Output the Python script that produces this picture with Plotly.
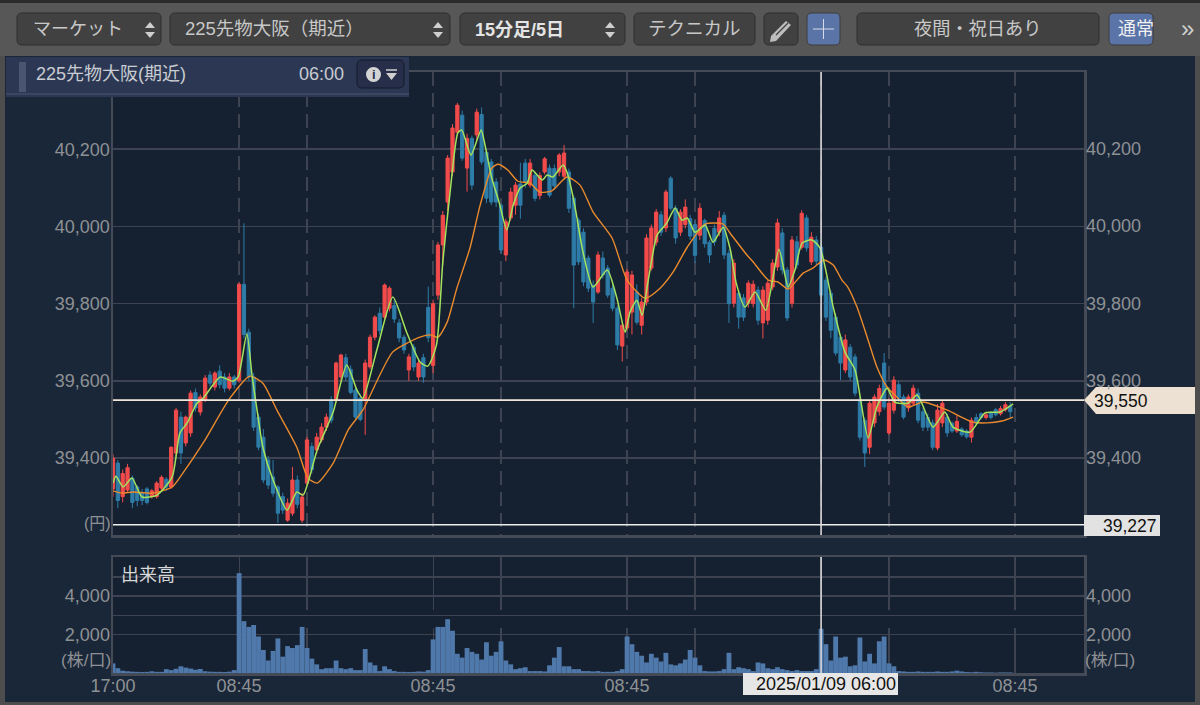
import plotly.graph_objects as go

# ---------- data (bar index: one bar = 30 min of the trading clock) ----------
opens = [
39320,39387,39300,39317,39348,39325,39310,39320,39300,39300,
39322,39345,39325,39413,39506,39439,39465,39570,39519,39550,
39615,39584,39625,39610,39581,39610,39600,39850,39726,39610,
39506,39454,39395,39351,39325,39300,39239,39257,39343,39239,
39335,39430,39421,39447,39480,39550,39550,39610,39660,39630,
39576,39555,39550,39636,39713,39775,39765,39788,39795,39750,
39713,39628,39687,39610,39660,39790,39640,39822,39952,40063,
40141,40244,40288,40151,40228,40237,40290,40192,40167,40115,
40055,39926,40022,40055,40110,40164,40107,40132,40080,40141,
40151,40150,40141,40130,40141,40073,40016,39985,39918,39848,
39830,39918,39892,39840,39788,39690,39737,39778,39830,39744,
39804,39892,39959,40030,39996,40125,40047,39985,40005,40020,
40005,39977,40015,39959,39995,39985,40029,39930,39801,39827,
39815,39801,39800,39835,39750,39757,39843,39895,39983,39887,
39801,39960,39946,40022,39908,39965,39946,39861,39827,39765,
39713,39628,39687,39662,39550,39498,39428,39491,39520,39646,
39465,39524,39590,39558,39530,39542,39568,39520,39505,39491,
39426,39491,39506,39490,39470,39475,39470,39454,39505,39515,
39505,39518,39525,39515,39525,39535]
closes = [
39400,39290,39360,39375,39285,39290,39290,39285,39315,39335,
39350,39325,39428,39524,39413,39506,39568,39530,39558,39607,
39594,39620,39590,39581,39610,39590,39850,39720,39610,39480,
39428,39343,39330,39309,39257,39265,39283,39343,39280,39299,
39447,39370,39454,39480,39506,39498,39646,39667,39610,39570,
39506,39500,39646,39713,39765,39730,39848,39840,39760,39711,
39680,39662,39636,39646,39610,39712,39800,39952,40029,40177,
40255,40314,40177,40228,40107,40296,40167,40073,40063,40063,
39939,40012,40089,40107,40055,40115,40164,40073,40132,40175,
40081,40105,40185,40190,40047,39900,39908,39856,39840,39804,
39926,39874,39822,39788,39693,39744,39882,39874,39752,39804,
39970,39996,40037,39985,40089,40047,39970,40037,40050,39975,
39925,40047,39955,39926,39960,40022,39926,39800,39905,39765,
39765,39853,39850,39757,39835,39853,39905,40009,39887,39763,
39965,39900,40034,39944,39972,39910,39822,39765,39731,39672,
39646,39706,39610,39568,39454,39413,39542,39558,39580,39532,
39542,39602,39555,39506,39558,39581,39498,39480,39480,39428,
39524,39542,39465,39470,39495,39460,39455,39498,39490,39505,
39512,39505,39512,39528,39538,39520]
highs = [
39410,39395,39370,39385,39355,39330,39320,39325,39320,39340,
39355,39350,39430,39530,39520,39510,39575,39580,39565,39615,
39625,39625,39640,39620,39620,39615,39855,40008,39735,39620,
39515,39475,39405,39395,39330,39310,39295,39377,39355,39310,
39455,39440,39465,39490,39515,39560,39650,39670,39670,39640,
39585,39565,39655,39720,39770,39790,39852,39845,39810,39760,
39720,39670,39695,39655,39670,39844,39810,39960,40040,40185,
40265,40320,40300,40240,40235,40305,40308,40200,40175,40125,
40060,40020,40100,40115,40165,40175,40175,40140,40140,40180,
40160,40160,40190,40211,40150,40080,40022,39995,39925,39860,
39935,39935,39900,39850,39795,39755,39890,39885,39850,39815,
39980,40005,40045,40040,40095,40130,40055,40045,40070,40030,
40015,40060,40020,39965,40005,40040,40037,39940,39915,39835,
39825,39860,39860,39845,39845,39860,39915,40020,39995,39895,
39975,39975,40042,40030,39985,39975,39955,39870,39835,39775,
39720,39720,39695,39670,39560,39505,39550,39565,39590,39672,
39555,39612,39600,39565,39565,39590,39580,39530,39515,39500,
39540,39550,39515,39495,39510,39480,39475,39505,39515,39518,
39520,39522,39530,39535,39545,39545]
lows = [
39300,39270,39285,39310,39270,39275,39278,39280,39295,39295,
39315,39315,39320,39405,39385,39430,39455,39520,39510,39545,
39585,39575,39580,39570,39575,39580,39595,39710,39600,39470,
39420,39335,39320,39300,39232,39255,39235,39250,39270,39232,
39330,39360,39410,39440,39470,39490,39545,39600,39600,39565,
39500,39495,39460,39630,39705,39720,39760,39780,39750,39700,
39670,39600,39625,39600,39595,39700,39620,39810,39900,40040,
40130,40235,40170,40090,40095,40225,40160,40060,40055,40050,
39930,39910,40015,40030,40020,40100,40100,40065,40070,40135,
40075,40095,40130,40125,40035,39788,39900,39845,39830,39750,
39825,39865,39815,39780,39680,39650,39730,39720,39745,39720,
39795,39885,39950,39975,39985,40040,39955,39975,39995,39965,
39905,39965,39945,39905,39950,39975,39915,39750,39790,39735,
39755,39790,39790,39745,39710,39745,39835,39885,39875,39755,
39790,39890,39940,39935,39900,39900,39815,39755,39710,39665,
39602,39620,39600,39560,39445,39377,39410,39480,39510,39525,
39460,39515,39545,39500,39520,39535,39490,39470,39470,39420,
39420,39480,39455,39465,39465,39455,39450,39440,39485,39500,
39500,39500,39508,39510,39520,39505]
volumes = [
500,250,120,90,70,60,50,60,90,60,
60,200,150,220,350,280,230,170,210,90,
70,60,60,50,70,150,5200,2700,2400,2500,
1900,1200,650,1150,1800,850,1400,1300,1450,2400,
1300,750,450,200,250,250,650,250,200,250,
150,150,1250,550,400,100,350,200,100,60,
60,50,60,80,70,150,1750,2400,2400,2800,
2200,1000,800,1300,1100,1000,700,1600,900,1100,
1650,650,450,200,250,300,100,100,100,80,
400,800,1350,350,350,200,200,100,100,80,
100,60,60,60,100,200,1900,1500,1100,900,
550,1000,800,600,1050,450,400,500,700,1200,
800,400,100,80,80,100,200,1050,200,300,
250,200,100,550,500,250,200,300,200,150,
100,150,100,100,100,200,2300,1500,650,1900,
800,850,350,400,1850,600,1000,500,1650,1900,
500,350,100,80,60,60,80,60,60,60,
80,60,60,80,120,80,50,40,60,40,
30,30,20,30,30,30]

fast_bars = [0,0.6,2.1,3.9,6,9.1,12.2,13.8,15.3,17.3,18.6,22.1,24.7,25.8,27.6,28.7,29.7,30.9,33,35.9,
37.9,39.2,42.1,45.4,48.2,50.3,51.5,54.4,57.7,60.6,63.3,64.9,66.7,68,69.5,71.1,71.9,73.8,75.9,76.7,
78.1,79.6,81.2,82.5,83.9,85.4,86.4,88.5,89.5,90.7,92.8,93.8,95.3,96.9,99,101.9,103.9,105.6,106.6,108,
109.1,110.3,112.2,114.2,115.9,117.3,118.4,120,122.1,123.7,125.8,127.3,128.5,130.3,132.4,134.6,137.3,139.2,140.6,142.1,
144.1,145.8,148.5,150.9,153,155.7,157.5,159.6,161.2,163.9,165.8,169.1,171.5,173.2,176.7,179.8,182.9,185.6]
fast_ma = [39335,39353,39325,39348,39299,39304,39351,39465,39491,39542,39555,39610,39599,39610,39721,39610,39524,39428,39343,39265,
39312,39304,39421,39519,39641,39576,39555,39680,39817,39724,39649,39638,39693,39908,40089,40242,40250,40185,40250,40211,
40125,40063,39991,40055,40099,40112,40146,40120,40133,40128,40159,40133,40048,39934,39843,39887,39814,39726,39778,39809,
39770,39856,39978,40009,40048,40016,40022,39985,40003,39959,39998,39939,39853,39791,39830,39783,39941,39843,39887,39957,
39965,39944,39791,39675,39628,39452,39532,39581,39545,39542,39563,39480,39519,39480,39467,39517,39519,39540]

slow_bars = [0,1.9,4.1,8.2,12.2,14.4,18.6,24.1,28.2,30.9,33.8,37.9,40.2,42.1,45.4,48.5,51.5,57.7,63.3,65.4,
67,68.9,70.9,73.6,75.7,78.1,79.4,81.4,83.5,86,88,90.5,93.6,96.3,99,102.9,106,109.7,112.8,115.5,
118.4,122.1,125.8,127.2,130.7,132,135.1,137.1,139.2,142.3,144.3,146.6,148.5,150.3,151.5,153.4,155.5,157.5,159.6,161.2,
163.9,167,172,177.3,180.2,183.3,185.6]
slow_ma = [39315,39309,39312,39309,39325,39361,39439,39555,39612,39594,39524,39428,39348,39335,39387,39473,39524,39675,39713,39719,
39713,39752,39840,39944,40055,40151,40161,40146,40117,40112,40089,40092,40128,40107,40037,39970,39861,39814,39840,39882,
39946,40006,40006,39983,39926,39908,39861,39856,39838,39879,39892,39913,39900,39861,39843,39791,39713,39636,39584,39563,
39532,39545,39524,39493,39491,39496,39506]

price_ticks = [39400, 39600, 39800, 40000, 40200]
volume_ticks = [2000, 3000, 4000, 5000]
volume_tick_text = ["2,000", "", "4,000", ""]
time_ticks = [0, 26, 40, 66, 80, 106, 120, 146, 160, 186]
time_labels = ["17:00", "08:45", "", "08:45", "", "08:45", "", "", "", "08:45"]
current_price = 39550
low_price = 39227
cursor_bar = 146

# ---------- styling ----------
W, H = 1200, 705
LAT = "Liberation Sans, Arial, Noto Sans CJK JP"
CJK = "Liberation Sans, Noto Sans CJK JP"
GRID = "#3d4350"
BORDER = "#454a57"
TXT = "#8e9194"
bars = list(range(len(opens)))
assert len(opens) == len(closes) == len(highs) == len(lows) == len(volumes) == 186
assert len(fast_bars) == len(fast_ma) and len(slow_bars) == len(slow_ma)

px = lambda x: x / W
py = lambda y: 1 - y / H

def rrect(x0, y0, x1, y1, fill, line=None, r=5, lw=1):
    a, b, c, d = px(x0), py(y0), px(x1), py(y1)
    rx, ry = r / W, r / H
    p = (f"M{a+rx},{b} L{c-rx},{b} Q{c},{b} {c},{b-ry} L{c},{d+ry} Q{c},{d} {c-rx},{d} "
         f"L{a+rx},{d} Q{a},{d} {a},{d+ry} L{a},{b-ry} Q{a},{b} {a+rx},{b} Z")
    return dict(type="path", xref="paper", yref="paper", path=p, fillcolor=fill,
                line=dict(color=line or fill, width=lw if line else 0), layer="above")

def poly(points, fill, line=None, lw=1):
    p = "M" + " L".join(f"{px(x)},{py(y)}" for x, y in points) + " Z"
    return dict(type="path", xref="paper", yref="paper", path=p, fillcolor=fill,
                line=dict(color=line or fill, width=lw if line else 0), layer="above")

def seg(x0, y0, x1, y1, color, w=1.5):
    return dict(type="line", xref="paper", yref="paper", x0=px(x0), y0=py(y0), x1=px(x1), y1=py(y1),
                line=dict(color=color, width=w), layer="above")

def note(x, y, text, size=16, color="#c8c8c8", anchor="left", font=CJK):
    return dict(xref="paper", yref="paper", x=px(x), y=py(y), text=text, showarrow=False,
                xanchor=anchor, yanchor="middle", align=anchor,
                font=dict(family=font, size=size, color=color), borderpad=0, borderwidth=0)

def updown(xc):
    return [poly([(xc-5, 28), (xc+5, 28), (xc, 22)], "#cfcfcf"),
            poly([(xc-5, 32), (xc+5, 32), (xc, 38)], "#cfcfcf")]

shapes = []
# window frame
shapes += [rrect(0, 0, 1200, 56, "#575757", r=0), rrect(0, 0, 1200, 3, "#2b2b2b", r=0),
           rrect(0, 56, 5, 705, "#4d4d4d", r=0), rrect(1195, 56, 1200, 705, "#4d4d4d", r=0),
           rrect(0, 702, 1200, 705, "#4d4d4d", r=0)]
# toolbar buttons
BTN, BL = "#414141", "#2f2f2f"
for a, b in [(17, 161), (170, 450), (460, 625), (634, 755), (764, 798), (857, 1099)]:
    shapes.append(rrect(a, 13, b, 45, BTN, BL))
shapes += [rrect(807, 13, 840, 45, "#5a74a8", "#3d3d3d"), rrect(1109, 13, 1153, 45, "#5a74a8", "#3d3d3d")]
shapes += updown(150) + updown(438) + updown(610)
shapes += [seg(823.5, 19, 823.5, 39, "#d5dbe8", 1), seg(813, 29, 834, 29, "#d5dbe8", 1)]
shapes += [poly([(771, 36), (786, 21), (791, 25), (776, 41), (770, 42)], "#bdbdbd"),
           seg(776, 35, 788, 23, "#414141", 1.2)]
# info panel
shapes += [rrect(6, 57, 409, 97, "#2c3853", r=0), rrect(6, 93, 409, 95, "#3c4660", r=0),
           rrect(19, 62, 26, 92, "#4a5570", r=0),
           rrect(357, 60, 404, 88, "#262e4a", "#15192a", r=5),
           dict(type="circle", xref="paper", yref="paper", x0=px(366), x1=px(381), y0=py(67), y1=py(82),
                fillcolor="#d4d4d4", line=dict(width=0), layer="above"),
           poly([(386, 73), (397, 73), (391.5, 80)], "#cfcfcf"), seg(386, 70, 397, 70, "#cfcfcf", 1.5)]
# cursor and level lines
shapes += [
    dict(type="line", xref="x domain", x0=0, x1=1, yref="y", y0=current_price, y1=current_price,
         line=dict(color="#f0e6d8", width=1.6), layer="above"),
    dict(type="line", xref="x domain", x0=0, x1=1, yref="y", y0=low_price, y1=low_price,
         line=dict(color="#eeeeee", width=1.6), layer="above"),
    dict(type="line", xref="x", x0=cursor_bar, x1=cursor_bar, yref="y domain", y0=0, y1=1,
         line=dict(color="#d8d8d8", width=1.6), layer="above"),
    dict(type="line", xref="x2", x0=cursor_bar, x1=cursor_bar, yref="y2 domain", y0=0, y1=1,
         line=dict(color="#d8d8d8", width=1.6), layer="above"),
    poly([(1084, 400), (1096, 387), (1195, 387), (1195, 414), (1096, 414)], "#ede1d3"),
    rrect(1084, 515, 1160, 536, "#e2e2e2", r=0),
    rrect(743, 673, 898, 695, "#e6e6e6", r=0),
]

annotations = [
    note(33, 29, "マーケット", 18), note(185, 29, "225先物大阪（期近）", 18.5),
    note(475, 30, "<b>15分足/5日</b>", 18, "#e4e4e4"), note(694.5, 29, "テクニカル", 18.5, anchor="center"),
    note(977, 29, "夜間・祝日あり", 18.2, anchor="center"), note(1118, 29, "通常", 18, "#f0f0f0"),
    note(1187, 29, "»", 24, "#d0d0d0", anchor="center"),
    note(36, 74, "225先物大阪(期近)", 18, "#c9ccd2"), note(344, 74, "06:00", 18, "#c9ccd2", anchor="right"),
    note(373.5, 74.5, "<b>i</b>", 13, "#262e4a", anchor="center", font=LAT),
    note(111, 523, "(円)", 16, TXT, anchor="right"),
    note(121, 575, "出来高", 18, "#d8d8d8"),
    note(111, 660, "(株/口)", 17, TXT, anchor="right"), note(1085, 660, "(株/口)", 17, TXT),
    note(1094, 400.5, f"{current_price:,}", 17.5, "#111111", font=LAT),
    note(1157, 525.5, f"{low_price:,}", 17.5, "#111111", anchor="right", font=LAT),
    note(825.5, 684, "2025/01/09 06:00", 18, "#111111", anchor="center", font=LAT),
]
for t in price_ticks:
    annotations.append(dict(xref="paper", yref="y", x=px(1084), y=t, text=f"{t:,}", showarrow=False,
                            xanchor="left", yanchor="middle", font=dict(family=LAT, size=18, color=TXT)))
for t, s in zip(volume_ticks, volume_tick_text):
    if s:
        annotations.append(dict(xref="paper", yref="y2", x=px(1084), y=t, text=s, showarrow=False,
                                xanchor="left", yanchor="middle", font=dict(family=LAT, size=18, color=TXT)))

fig = go.Figure()
fig.add_trace(go.Candlestick(
    x=bars, open=opens, high=highs, low=lows, close=closes, xaxis="x", yaxis="y",
    whiskerwidth=0, hoverinfo="skip",
    increasing=dict(line=dict(color="#f24b4b", width=1), fillcolor="#f24b4b"),
    decreasing=dict(line=dict(color="#2e7ca8", width=1), fillcolor="#2e7ca8")))
fig.add_trace(go.Scatter(x=slow_bars, y=slow_ma, mode="lines", xaxis="x", yaxis="y", hoverinfo="skip",
                         line=dict(color="#ea8a2c", width=1.4, shape="spline", smoothing=0.6)))
fig.add_trace(go.Scatter(x=fast_bars, y=fast_ma, mode="lines", xaxis="x", yaxis="y", hoverinfo="skip",
                         line=dict(color="#a3e35e", width=1.5, shape="spline", smoothing=0.6)))
fig.add_trace(go.Bar(x=bars, y=volumes, xaxis="x2", yaxis="y2", marker=dict(color="#5079ab", line=dict(width=0)),
                     width=1.0, hoverinfo="skip"))

x_range = [0, (1084 - 113) / 4.85]
fig.update_layout(
    width=W, height=H, margin=dict(l=0, r=0, t=0, b=0, autoexpand=False), autosize=False,
    paper_bgcolor="#1a2739", plot_bgcolor="#152131", showlegend=False, boxgap=0.05, dragmode=False,
    shapes=shapes, annotations=annotations,
    xaxis=dict(domain=[px(113), px(1084)], range=x_range, anchor="y", rangeslider=dict(visible=False),
               tickmode="array", tickvals=time_ticks, ticktext=[""] * len(time_ticks), showgrid=True,
               gridcolor=GRID, griddash="14px,7px", gridwidth=1.5, showline=True, linecolor=BORDER, linewidth=2.5,
               mirror=True, zeroline=False, ticks="", automargin=False),
    yaxis=dict(domain=[py(535), py(72)], range=[39200.6, 40400], anchor="x", tickmode="array", tickvals=price_ticks,
               tickformat=",", tickfont=dict(family=LAT, size=18, color=TXT), gridcolor=GRID, gridwidth=1.5,
               showline=True, linecolor=BORDER, linewidth=2.5, mirror=True, zeroline=False, ticks="", automargin=False,
               ticklabelstandoff=-3),
    xaxis2=dict(domain=[px(113), px(1084)], range=x_range, anchor="y2", tickmode="array", tickvals=time_ticks,
                ticktext=time_labels, tickangle=0, tickfont=dict(family=LAT, size=18, color=TXT), showgrid=True,
                gridcolor=GRID, griddash="53px,18px,45px", gridwidth=1.2, showline=True, linecolor=BORDER,
                linewidth=2.5, mirror=True, zeroline=False, ticks="", automargin=False, ticklabelstandoff=-5),
    yaxis2=dict(domain=[py(673), py(557)], range=[0, 6040], anchor="x2", tickmode="array", tickvals=volume_ticks,
                ticktext=volume_tick_text, tickfont=dict(family=LAT, size=18, color=TXT), gridcolor=GRID,
                gridwidth=1.5, showline=True, linecolor=BORDER, linewidth=2.5, mirror=True, zeroline=False, ticks="", automargin=False,
                ticklabelstandoff=-3),
)
fig.write_html("out.html", config=dict(displayModeBar=False, staticPlot=True),
               post_script="document.body.style.margin='0';document.body.style.overflow='hidden';")
